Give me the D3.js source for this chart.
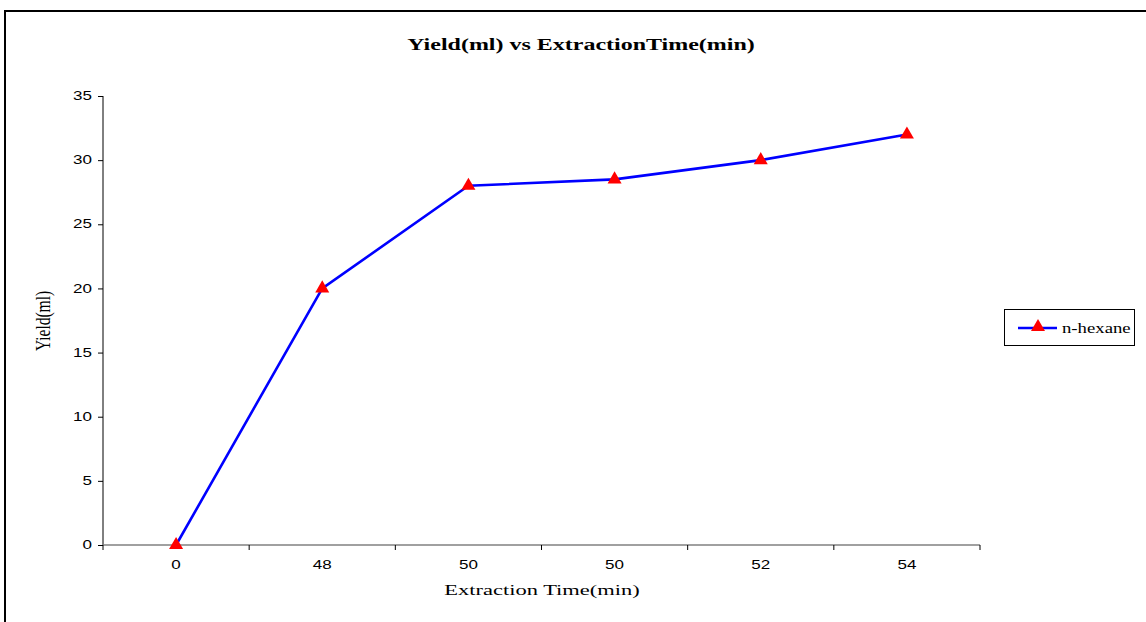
<!DOCTYPE html>
<html><head><meta charset="utf-8">
<script src="https://cdn.jsdelivr.net/npm/d3@7"></script>
<style>body{margin:0;background:#fff}svg{display:block}</style>
</head><body>
<script>
const categories = ["0","48","50","50","52","54"];
const yieldValues = [0,20,28,28.5,30,32];
const yTicks = [0,5,10,15,20,25,30,35];
const seriesName = "n-hexane";

const W=1146,H=622;
const SX=1.45; // horizontal text stretch seen in reference
const serif="'Liberation Serif','Times New Roman',serif";
const sans="Arial,'Liberation Sans',sans-serif";
const svg=d3.select("body").append("svg").attr("width",W).attr("height",H);
svg.append("rect").attr("width",W).attr("height",H).attr("fill","#fff");
svg.append("path").attr("d","M5,630 L5,11 L1160,11").attr("fill","none").attr("stroke","#000").attr("stroke-width",2);

const L=103,R=980,T=96,B=545;
const x=d3.scaleBand().domain(d3.range(categories.length)).range([L,R]);
const y=d3.scaleLinear().domain([0,35]).range([B,T]);

function stext(g,tx,ty,s,opts){
  const t=g.append("text").attr("transform",`translate(${tx},${ty}) scale(${opts.sx||SX},1)`)
   .attr("text-anchor",opts.anchor||"middle").attr("font-family",opts.family)
   .attr("font-size",opts.size).attr("fill","#000").text(s);
  if(opts.bold) t.attr("font-weight","bold");
  if(opts.dy) t.attr("dy",opts.dy);
  return t;
}

// y axis
const ya=svg.append("g").attr("transform",`translate(${L},0)`)
 .call(d3.axisLeft(y).tickValues(yTicks).tickSize(5).tickFormat(""));
ya.select(".domain").attr("stroke","#000").attr("d",`M0,${T}V${B}`);
ya.selectAll(".tick line").attr("stroke","#000");
yTicks.forEach(v=>stext(svg,L-11,y(v),String(v),{anchor:"end",family:sans,size:12,dy:"0.35em",sx:1.42}));

// x axis
const xa=svg.append("g").attr("transform",`translate(0,${B})`);
xa.append("line").attr("x1",L).attr("x2",R).attr("stroke","#808080").attr("stroke-width",1.5);
const bounds=d3.range(categories.length+1).map(i=>i<categories.length?x(i):x(categories.length-1)+x.bandwidth());
xa.selectAll("line.t").data(bounds).join("line").attr("class","t")
 .attr("x1",d=>d).attr("x2",d=>d).attr("y1",0).attr("y2",5).attr("stroke","#000");
categories.forEach((c,i)=>stext(xa,x(i)+x.bandwidth()/2,24,c,{family:sans,size:12,sx:1.42}));

// line
const pts=yieldValues.map((v,i)=>[x(i)+x.bandwidth()/2,y(v)]);
svg.append("path").attr("d",d3.line()(pts)).attr("fill","none").attr("stroke","#0000ff").attr("stroke-width",2.6);
const tri=d3.symbol().type(d3.symbolTriangle).size(85);
svg.selectAll("path.m").data(pts).join("path").attr("class","m")
 .attr("transform",d=>`translate(${d[0]},${d[1]})`).attr("d",tri).attr("fill","#ff0000");

// titles
stext(svg,581,50,"Yield(ml) vs ExtractionTime(min)",{family:serif,size:16,bold:true,sx:1.5});
stext(svg,542,595,"Extraction Time(min)",{family:serif,size:15,sx:1.5});
svg.append("text").attr("transform","translate(50,321) rotate(-90) scale(1,1.4)").attr("text-anchor","middle")
 .attr("font-family",serif).attr("font-size",15.5).text("Yield(ml)");

// legend
const lg=svg.append("g");
lg.append("rect").attr("x",1004.5).attr("y",309.5).attr("width",130).attr("height",36).attr("fill","#fff").attr("stroke","#000").attr("stroke-width",1);
lg.append("line").attr("x1",1018).attr("x2",1057).attr("y1",328).attr("y2",328).attr("stroke","#0000ff").attr("stroke-width",2.6);
lg.append("path").attr("transform","translate(1038,327)").attr("d",tri).attr("fill","#ff0000");
stext(lg,1062,333,seriesName,{anchor:"start",family:serif,size:15,sx:1.25});
</script>
</body></html>
